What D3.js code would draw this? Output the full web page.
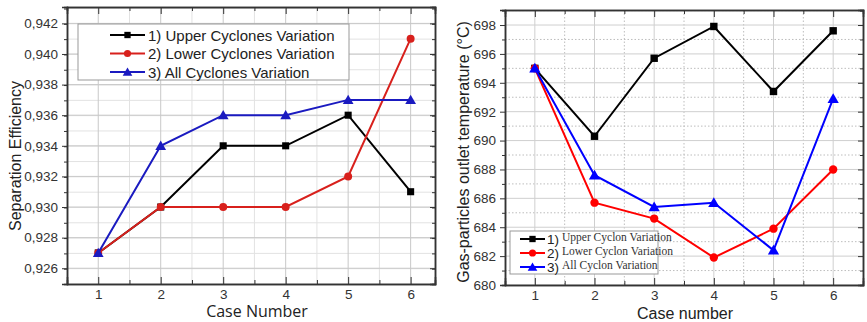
<!DOCTYPE html>
<html>
<head>
<meta charset="utf-8">
<script src="https://cdn.jsdelivr.net/npm/d3@7"></script>
<style>
  body { margin: 0; background: #fff; }
  svg { display: block; font-family: "Liberation Sans", Arial, sans-serif; }
</style>
</head>
<body>
<svg id="chart" width="867" height="322"></svg>
<script>
// case numbers on the x axis
const cases = [1, 2, 3, 4, 5, 6];

// left panel: separation efficiency
const effUpper = [0.927, 0.930, 0.934, 0.934, 0.936, 0.931];
const effLower = [0.927, 0.930, 0.930, 0.930, 0.932, 0.941];
const effAll = [0.927, 0.934, 0.936, 0.936, 0.937, 0.937];
const effTicks = [0.926, 0.928, 0.930, 0.932, 0.934, 0.936, 0.938, 0.940, 0.942];
const effLegend = ["1) Upper Cyclones Variation", "2) Lower Cyclones Variation", "3) All Cyclones Variation"];

// right panel: outlet temperature
const tempUpper = [695.0, 690.3, 695.7, 697.9, 693.4, 697.6];
const tempLower = [695.0, 685.7, 684.6, 681.9, 683.9, 688.0];
const tempAll = [695.0, 687.6, 685.4, 685.7, 682.4, 692.9];
const tempTicks = [680, 682, 684, 686, 688, 690, 692, 694, 696, 698];
const tempLegendNum = ["1)", "2)", "3)"];
const tempLegend = ["Upper Cyclon Variation", "Lower Cyclon Variation", "All Cyclon Variation"];

const svg = d3.select("#chart");
const symbols = [d3.symbolSquare, d3.symbolCircle, d3.symbolTriangle];

function drawPanel(o) {
    const x = d3.scaleLinear().domain(o.xDomain).range([o.left, o.right]);
    const y = d3.scaleLinear().domain(o.yDomain).range([o.bottom, o.top]);
    const g = svg.append("g");

    // grid: minor first, then major
    const xMinor = d3.range(1.5, 6.5, 1).filter(v => v < o.xDomain[1]);
    const yMinor = d3.range(o.yDomain[0], o.yDomain[1], o.yMinorStep)
        .filter(v => !o.yTicks.some(t => Math.abs(t - v) < 1e-9));

    g.selectAll(".vminor").data(xMinor).enter().append("line")
        .attr("x1", d => x(d)).attr("x2", d => x(d))
        .attr("y1", o.top).attr("y2", o.bottom)
        .attr("stroke", o.minorColor).attr("stroke-dasharray", o.minorDash);
    g.selectAll(".hminor").data(yMinor).enter().append("line")
        .attr("x1", o.left).attr("x2", o.right)
        .attr("y1", d => y(d)).attr("y2", d => y(d))
        .attr("stroke", o.minorColor).attr("stroke-dasharray", o.minorDash);
    g.selectAll(".vmajor").data(cases).enter().append("line")
        .attr("x1", d => x(d)).attr("x2", d => x(d))
        .attr("y1", o.top).attr("y2", o.bottom)
        .attr("stroke", o.majorColor);
    g.selectAll(".hmajor").data(o.yTicks).enter().append("line")
        .attr("x1", o.left).attr("x2", o.right)
        .attr("y1", d => y(d)).attr("y2", d => y(d))
        .attr("stroke", o.majorColor);

    // axes
    const axisColor = "#333";
    g.append("g").attr("transform", `translate(0,${o.bottom})`)
        .call(d3.axisBottom(x).tickValues(cases).tickSize(-7).tickPadding(5).tickFormat(d3.format("d")));
    g.append("g").attr("transform", `translate(0,${o.bottom})`)
        .call(d3.axisBottom(x).tickValues(xMinor).tickSize(-4).tickFormat(""));
    g.append("g").attr("transform", `translate(0,${o.top})`)
        .call(d3.axisTop(x).tickValues(cases).tickSize(-7).tickFormat(""));
    g.append("g").attr("transform", `translate(0,${o.top})`)
        .call(d3.axisTop(x).tickValues(xMinor).tickSize(-4).tickFormat(""));
    g.append("g").attr("transform", `translate(${o.left},0)`)
        .call(d3.axisLeft(y).tickValues(o.yTicks).tickSize(5).tickPadding(4).tickFormat(o.fmt));
    g.append("g").attr("transform", `translate(${o.left},0)`)
        .call(d3.axisLeft(y).tickValues(yMinor).tickSize(3).tickFormat(""));
    g.append("g").attr("transform", `translate(${o.right},0)`)
        .call(d3.axisRight(y).tickValues(o.yTicks).tickSize(-5).tickFormat(""));
    g.append("g").attr("transform", `translate(${o.right},0)`)
        .call(d3.axisRight(y).tickValues(yMinor).tickSize(-3).tickFormat(""));

    g.selectAll(".domain").attr("stroke", axisColor).attr("stroke-width", 1.5);
    g.selectAll(".tick line").attr("stroke", axisColor);
    g.selectAll(".tick text").attr("fill", "#333").style("font-size", "13.5px")
        .style("font-family", "'Liberation Sans', Arial, sans-serif");

    // series
    o.series.forEach((s, i) => {
        const pts = cases.map((c, j) => [c, s.values[j]]);
        g.append("path").datum(pts)
            .attr("fill", "none").attr("stroke", s.color).attr("stroke-width", 2)
            .attr("d", d3.line().x(d => x(d[0])).y(d => y(d[1])));
        g.selectAll(null).data(pts).enter().append("path")
            .attr("transform", d => `translate(${x(d[0])},${y(d[1]) + (i === 2 ? 1 : 0)})`)
            .attr("d", d3.symbol().type(symbols[i]).size(o.markSize))
            .attr("fill", s.color);
    });

    // axis titles
    svg.append("text")
        .attr("x", o.xTitleX).attr("y", o.xTitleY)
        .attr("text-anchor", "middle")
        .style("font-family", o.xTitleFont)
        .style("font-size", "16px").attr("fill", "#222")
        .text(o.xTitle);
    svg.append("text")
        .attr("transform", `translate(${o.yTitleX},${o.yTitleY}) rotate(-90)`)
        .attr("text-anchor", "middle")
        .style("font-size", "16px").attr("fill", "#222")
        .text(o.yTitle);
    return { x, y, g };
}

const fmtComma = d => d3.format(".3f")(d).replace(".", ",");

// left panel
drawPanel({
    left: 67, right: 435, top: 7, bottom: 284,
    xDomain: [0.5, 6.39], yDomain: [0.92497, 0.94307],
    yTicks: effTicks, yMinorStep: 0.001, fmt: fmtComma,
    majorColor: "#c8c8c8", minorColor: "#e2e2e2", minorDash: null,
    markSize: 50,
    series: [
        { values: effUpper, color: "#000" },
        { values: effLower, color: "#d8201c" },
        { values: effAll, color: "#1a1ac0" }
    ],
    xTitle: "Case Number", xTitleX: 257, xTitleY: 317,
    xTitleFont: "'Open Sans', sans-serif",
    yTitle: "Separation Efficiency", yTitleX: 21, yTitleY: 156
});

// left legend
const legL = svg.append("g");
legL.append("rect").attr("x", 78).attr("y", 24).attr("width", 271).attr("height", 56)
    .attr("fill", "#fff").attr("stroke", "#999");
effLegend.forEach((t, i) => {
    const cy = 35 + i * 18.5;
    const col = ["#000", "#d8201c", "#1a1ac0"][i];
    legL.append("line").attr("x1", 110).attr("x2", 145).attr("y1", cy).attr("y2", cy)
        .attr("stroke", col).attr("stroke-width", 2);
    legL.append("path").attr("transform", `translate(127.5,${cy + (i === 2 ? 1 : 0)})`)
        .attr("d", d3.symbol().type(symbols[i]).size(40)).attr("fill", col);
    legL.append("text").attr("x", 148).attr("y", cy + 5.5)
        .style("font-size", "15px").attr("fill", "#222").text(t);
});

// right panel
drawPanel({
    left: 505, right: 863, top: 10, bottom: 285,
    xDomain: [0.5, 6.5], yDomain: [680, 699.04],
    yTicks: tempTicks, yMinorStep: 1, fmt: d3.format("d"),
    majorColor: "#cfcfcf", minorColor: "#bdbdbd", minorDash: "1.5,2",
    markSize: 55,
    series: [
        { values: tempUpper, color: "#000" },
        { values: tempLower, color: "#ff0000" },
        { values: tempAll, color: "#0000ff" }
    ],
    xTitle: "Case number", xTitleX: 685, xTitleY: 319,
    xTitleFont: "'Liberation Sans', Arial, sans-serif",
    yTitle: "Gas-particles outlet temperature (°C)", yTitleX: 469, yTitleY: 152
});

// right legend
const legR = svg.append("g");
legR.append("rect").attr("x", 510).attr("y", 231).attr("width", 148).attr("height", 43)
    .attr("fill", "#fff").attr("stroke", "#999");
tempLegend.forEach((t, i) => {
    const cy = 239 + i * 14;
    const col = ["#000", "#ff0000", "#0000ff"][i];
    legR.append("line").attr("x1", 520).attr("x2", 545).attr("y1", cy).attr("y2", cy)
        .attr("stroke", col).attr("stroke-width", 2);
    legR.append("path").attr("transform", `translate(532.5,${cy + (i === 2 ? 1 : 0)})`)
        .attr("d", d3.symbol().type(symbols[i]).size(40)).attr("fill", col);
    legR.append("text").attr("x", 547).attr("y", cy + 5)
        .style("font-size", "13.5px").attr("fill", "#222").text(tempLegendNum[i]);
    legR.append("text").attr("x", 562).attr("y", cy + 1.5)
        .style("font-family", "'Liberation Serif', serif")
        .style("font-size", "11.5px").attr("fill", "#333").text(t);
});
</script>
</body>
</html>
